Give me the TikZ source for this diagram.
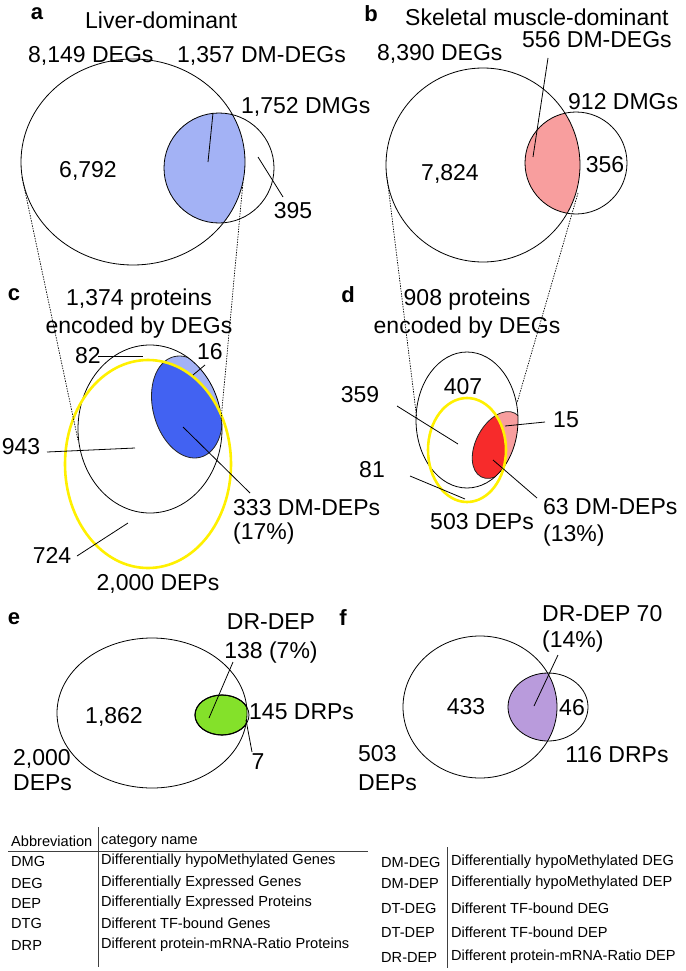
\documentclass[tikz,border=0pt]{standalone}
\usepackage{fontspec}
\setmainfont{Liberation Sans}
\usepackage{tikz}
\usetikzlibrary{calc}
\definecolor{dmLight}{HTML}{A3B2F5}
\definecolor{dmDark}{HTML}{4262F2}
\definecolor{smLight}{HTML}{F89E9E}
\definecolor{smDark}{HTML}{F72B2B}
\definecolor{drGreen}{HTML}{84E12A}
\definecolor{drPurple}{HTML}{B99BDC}
\definecolor{depYellow}{HTML}{FFF000}
\tikzset{
  venn/.style={draw=black, line width=0.8pt},
  deprim/.style={draw=depYellow, line width=2.6pt},
  leader/.style={draw=black, line width=0.8pt},
  zoomline/.style={draw=black, line width=0.7pt, dash pattern=on 1.4pt off 1.2pt},
  lbl/.style={inner sep=0pt, font=\fontsize{23}{26}\selectfont},
  panel/.style={inner sep=0pt, font=\fontsize{22}{26}\selectfont\bfseries},
  tabcell/.style={inner sep=0pt, anchor=west, font=\fontsize{14.6}{16}\selectfont},
  tabrule/.style={draw=black!75, line width=1pt},
}

\begin{document}
\begin{tikzpicture}[x=1pt, y=-1pt]
\useasboundingbox (0,0) rectangle (685,971);

% Panel a: liver-dominant DEGs vs DMGs
\coordinate (degA) at (133,162);
\coordinate (dmgA) at (219,168);
\begin{scope}
  \clip (degA) ellipse [x radius=112pt, y radius=103pt];
  \fill[dmLight] (dmgA) circle [radius=55pt];
\end{scope}
\draw[venn] (degA) ellipse [x radius=112pt, y radius=103pt];
\draw[venn] (dmgA) circle [radius=55pt];

\node[panel] (tagA) at (37,14) {a};
\node[lbl, anchor=west] (titleA) at (85,20) {Liver-dominant};
\node[lbl, anchor=west] (degLblA) at (28,56) {8,149 DEGs};
\node[lbl, anchor=west] (dmdegLblA) at (177,56) {1,357 DM-DEGs};
\node[lbl, anchor=west] (dmgLblA) at (241,107) {1,752 DMGs};
\node[lbl] (onlyDegA) at (88,171) {6,792};
\node[lbl] (onlyDmgA) at (293,211) {395};

\coordinate (dmdegA1) at (213,113);
\coordinate (dmdegA2) at (208,162);
\draw[leader] (dmdegA1) -- (dmdegA2);
\coordinate (onlyDmgA1) at (258,157);
\coordinate (onlyDmgA2) at (283,197);
\draw[leader] (onlyDmgA1) -- (onlyDmgA2);

% Panel b: skeletal muscle-dominant DEGs vs DMGs
\coordinate (degB) at (483,165);
\coordinate (dmgB) at (576,163);
\begin{scope}
  \clip (degB) circle [radius=97pt];
  \fill[smLight] (dmgB) circle [radius=51pt];
\end{scope}
\draw[venn] (degB) circle [radius=97pt];
\draw[venn] (dmgB) circle [radius=51pt];

\node[panel] (tagB) at (371,14) {b};
\node[lbl, anchor=west] (titleB) at (405,17) {Skeletal muscle-dominant};
\node[lbl, anchor=west] (dmdegLblB) at (522,40) {556 DM-DEGs};
\node[lbl, anchor=west] (degLblB) at (377,54) {8,390 DEGs};
\node[lbl, anchor=west] (dmgLblB) at (568,102) {912 DMGs};
\node[lbl] (onlyDegB) at (450,174) {7,824};
\node[lbl] (onlyDmgB) at (605,165) {356};

\coordinate (dmdegB1) at (548,58);
\coordinate (dmdegB2) at (533,157);
\draw[leader] (dmdegB1) -- (dmdegB2);

% Panel c: proteins encoded by liver DEGs
\coordinate (protC) at (150,429);
\coordinate (depC) at (148,464);
\coordinate (dmC) at (187,407);
\begin{scope}
  \clip (protC) ellipse [x radius=72pt, y radius=84pt];
  \fill[dmLight, rotate around={15:(dmC)}] (dmC) ellipse [x radius=34pt, y radius=52pt];
  \begin{scope}
    \clip (depC) ellipse [x radius=83pt, y radius=104pt];
    \fill[dmDark, rotate around={15:(dmC)}] (dmC) ellipse [x radius=34pt, y radius=52pt];
  \end{scope}
  \draw[venn, draw=black!85, rotate around={15:(dmC)}] (dmC) ellipse [x radius=34pt, y radius=52pt];
\end{scope}
\draw[venn] (protC) ellipse [x radius=72pt, y radius=84pt];
\draw[deprim] (depC) ellipse [x radius=83pt, y radius=104pt];

\node[panel] (tagC) at (14,295) {c};
\node[lbl, align=center, font=\fontsize{23}{28}\selectfont] (protLblC) at (139,314)
   {1,374 proteins\\encoded by DEGs};
\node[lbl] (n82C) at (88,356) {82};
\node[lbl] (n16C) at (210,352) {16};
\node[lbl] (n943C) at (21,447) {943};
\node[lbl, anchor=west, align=left, font=\fontsize{23}{24}\selectfont] (dmdepLblC) at (233,522)
   {333 DM-DEPs\\(17\%)};
\node[lbl] (n724C) at (52,555) {724};
\node[lbl] (depLblC) at (158,584) {2,000 DEPs};

\coordinate (n82C1) at (98,356);
\coordinate (n82C2) at (143,356);
\draw[leader] (n82C1) -- (n82C2);
\coordinate (n16C1) at (205,365);
\coordinate (n16C2) at (193,375);
\draw[leader] (n16C1) -- (n16C2);
\coordinate (n943C1) at (47,452);
\coordinate (n943C2) at (135,448);
\draw[leader] (n943C1) -- (n943C2);
\coordinate (dmdepC1) at (183,427);
\coordinate (dmdepC2) at (250,493);
\draw[leader] (dmdepC1) -- (dmdepC2);
\coordinate (n724C1) at (77,556);
\coordinate (n724C2) at (128,523);
\draw[leader] (n724C1) -- (n724C2);

% zoom lines a -> c
\coordinate (zoomA1) at (22,177);
\coordinate (zoomC1) at (78,440);
\coordinate (zoomA2) at (243,182);
\coordinate (zoomC2) at (221,420);
\draw[zoomline] (zoomA1) -- (zoomC1);
\draw[zoomline] (zoomA2) -- (zoomC2);

% Panel d: proteins encoded by muscle DEGs
\coordinate (protD) at (467,420);
\coordinate (depD) at (467,450);
\coordinate (dmD) at (498,445);
\begin{scope}
  \clip (protD) ellipse [x radius=51pt, y radius=68pt];
  \fill[smLight, rotate around={-28:(dmD)}] (dmD) ellipse [x radius=22pt, y radius=36pt];
  \begin{scope}
    \clip (depD) ellipse [x radius=39pt, y radius=52pt];
    \fill[smDark, rotate around={-28:(dmD)}] (dmD) ellipse [x radius=22pt, y radius=36pt];
  \end{scope}
  \draw[venn, draw=black!85, rotate around={-28:(dmD)}] (dmD) ellipse [x radius=22pt, y radius=36pt];
\end{scope}
\draw[venn] (protD) ellipse [x radius=51pt, y radius=68pt];
\draw[deprim] (depD) ellipse [x radius=39pt, y radius=52pt];

\node[panel] (tagD) at (348,295) {d};
\node[lbl, align=center, font=\fontsize{23}{28}\selectfont] (protLblD) at (467,314)
   {908 proteins\\encoded by DEGs};
\node[lbl] (n407D) at (463,387) {407};
\node[lbl] (n359D) at (360,395) {359};
\node[lbl] (n15D) at (566,420) {15};
\node[lbl] (n81D) at (372,470) {81};
\node[lbl] (depLblD) at (482,522) {503 DEPs};
\node[lbl, anchor=west, align=left, font=\fontsize{23}{27}\selectfont] (dmdepLblD) at (543,522)
   {63 DM-DEPs\\(13\%)};

\coordinate (n359D1) at (397,406);
\coordinate (n359D2) at (458,444);
\draw[leader] (n359D1) -- (n359D2);
\coordinate (n15D1) at (545,422);
\coordinate (n15D2) at (505,426);
\draw[leader] (n15D1) -- (n15D2);
\coordinate (n81D1) at (410,476);
\coordinate (n81D2) at (465,499);
\draw[leader] (n81D1) -- (n81D2);
\coordinate (dmdepD1) at (493,460);
\coordinate (dmdepD2) at (537,498);
\draw[leader] (dmdepD1) -- (dmdepD2);

% zoom lines b -> d
\coordinate (zoomB1) at (387,177);
\coordinate (zoomD1) at (417,420);
\coordinate (zoomB2) at (578,193);
\coordinate (zoomD2) at (517,403);
\draw[zoomline] (zoomB1) -- (zoomD1);
\draw[zoomline] (zoomB2) -- (zoomD2);

% Panel e: liver DEPs vs DRPs
\coordinate (depE) at (152,713);
\coordinate (drpE) at (222,715);
\begin{scope}
  \clip (depE) ellipse [x radius=95pt, y radius=75pt];
  \fill[drGreen] (drpE) ellipse [x radius=27pt, y radius=20pt];
  \draw[venn, line width=1.1pt] (drpE) ellipse [x radius=27pt, y radius=20pt];
\end{scope}
\draw[venn] (depE) ellipse [x radius=95pt, y radius=75pt];
\draw[venn] (drpE) ellipse [x radius=27pt, y radius=20pt];

\node[panel] (tagE) at (14,619) {e};
\node[lbl, align=center, font=\fontsize{23}{29}\selectfont] (drdepLblE) at (271,638)
   {DR-DEP\\138 (7\%)};
\node[lbl] (onlyDepE) at (114,717) {1,862};
\node[lbl, anchor=west] (drpLblE) at (249,712) {145 DRPs};
\node[lbl] (onlyDrpE) at (258,762) {7};
\node[lbl, anchor=west, align=left, font=\fontsize{23}{25}\selectfont] (depLblE) at (13,770)
   {2,000\\DEPs};

\coordinate (drdepE1) at (233,662);
\coordinate (drdepE2) at (209,718);
\draw[leader] (drdepE1) -- (drdepE2);
\coordinate (onlyDrpE1) at (246,720);
\coordinate (onlyDrpE2) at (252,752);
\draw[leader] (onlyDrpE1) -- (onlyDrpE2);

% Panel f: muscle DEPs vs DRPs
\coordinate (depF) at (480,707);
\coordinate (drpF) at (548,707);
\begin{scope}
  \clip (depF) ellipse [x radius=77pt, y radius=71pt];
  \fill[drPurple] (drpF) ellipse [x radius=40pt, y radius=34pt];
\end{scope}
\draw[venn] (depF) ellipse [x radius=77pt, y radius=71pt];
\draw[venn] (drpF) ellipse [x radius=40pt, y radius=34pt];

\node[panel] (tagF) at (343,618) {f};
\node[lbl, anchor=west, align=left, font=\fontsize{23}{26}\selectfont] (drdepLblF) at (542,629)
   {DR-DEP 70\\(14\%)};
\node[lbl] (onlyDepF) at (466,707) {433};
\node[lbl] (onlyDrpF) at (572,708) {46};
\node[lbl] (drpLblF) at (617,755) {116 DRPs};
\node[lbl, anchor=west, align=left, font=\fontsize{23}{29}\selectfont] (depLblF) at (358,768)
   {503\\DEPs};

\coordinate (drdepF1) at (558,655);
\coordinate (drdepF2) at (534,706);
\draw[leader] (drdepF1) -- (drdepF2);

% Abbreviation table
\node[tabcell] (abbrHead) at (11,841) {Abbreviation};
\node[tabcell] (nameHead) at (101,841) {category name};
\coordinate (headRuleL) at (8,851);
\coordinate (headRuleR) at (368,851);
\draw[tabrule] (headRuleL) -- (headRuleR);
\coordinate (colRuleLtop) at (98,827);
\coordinate (colRuleLbot) at (98,967);
\draw[tabrule] (colRuleLtop) -- (colRuleLbot);
\foreach \y/\abbr/\full [count=\i] in {
  861/DMG/Differentially hypoMethylated Genes,
  883/DEG/Differentially Expressed Genes,
  903/DEP/Differentially Expressed Proteins,
  923/DTG/Different TF-bound Genes,
  945/DRP/Different protein-mRNA-Ratio Proteins}
{
  \node[tabcell] (abbrL\i) at (11,\y) {\abbr};
  \node[tabcell] (nameL\i) at (101,\y) {\full};
}
\coordinate (colRuleRtop) at (447,847);
\coordinate (colRuleRbot) at (447,968);
\draw[tabrule] (colRuleRtop) -- (colRuleRbot);
\foreach \y/\abbr/\full [count=\i] in {
  862/DM-DEG/Differentially hypoMethylated DEG,
  883/DM-DEP/Differentially hypoMethylated DEP,
  908/DT-DEG/Different TF-bound DEG,
  932/DT-DEP/Different TF-bound DEP,
  957/DR-DEP/Different protein-mRNA-Ratio DEP}
{
  \node[tabcell] (abbrR\i) at (381,\y) {\abbr};
  \node[tabcell] (nameR\i) at (451,\y) {\full};
}

\end{tikzpicture}
\end{document}
